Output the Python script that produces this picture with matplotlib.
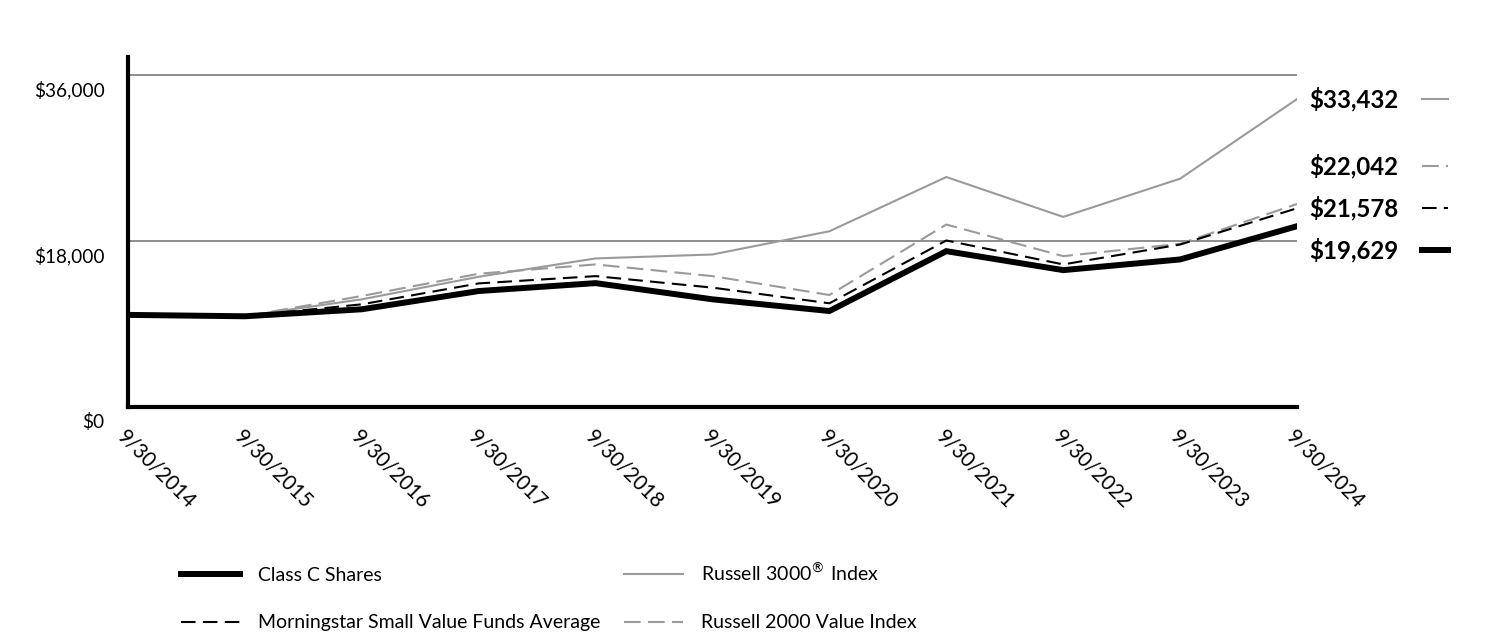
import matplotlib.pyplot as plt
from matplotlib.lines import Line2D
from matplotlib.transforms import ScaledTranslation, blended_transform_factory

plt.rcParams['font.family'] = ['Lato', 'DejaVu Sans']

# Data
years = ["9/30/2014", "9/30/2015", "9/30/2016", "9/30/2017", "9/30/2018", "9/30/2019",
         "9/30/2020", "9/30/2021", "9/30/2022", "9/30/2023", "9/30/2024"]
class_c = [10000, 9850, 10610, 12590, 13450, 11690, 10420, 16920, 14860, 16020, 19629]
russell_3000 = [10000, 9880, 11690, 14140, 16130, 16560, 19080, 24970, 20640, 24790, 33432]
morningstar = [10000, 9870, 11150, 13420, 14210, 12960, 11260, 18080, 15480, 17640, 21578]
russell_2000v = [10000, 9860, 12050, 14470, 15480, 14210, 12160, 19810, 16380, 17720, 22042]
yticks = [0, 18000, 36000]
ytick_labels = ["$0", "$18,000", "$36,000"]

x = list(range(len(years)))
gray = '#9a9a9a'

fig = plt.figure(figsize=(15.12, 6.36), dpi=100)
ax = fig.add_axes([0.08466, 0.36006, 0.77315, 0.55031])

ax.plot(x, russell_3000, color=gray, lw=1.5, label='Russell 3000$^{®}$ Index')
ax.plot(x, russell_2000v, color=gray, lw=1.5, linestyle=(0, (8, 3.5)), label='Russell 2000 Value Index')
ax.plot(x, morningstar, color='black', lw=1.5, linestyle=(0, (7, 3.5)), label='Morningstar Small Value Funds Average')
ax.plot(x, class_c, color='black', lw=4.3, solid_joinstyle='miter', label='Class C Shares')

ax.set_xlim(0, len(years) - 1)
ax.set_ylim(0, 38000)

for yv in yticks[1:]:
    ax.axhline(yv, color='#7a7a7a', lw=1.2, zorder=0)

for s in ['top', 'right']:
    ax.spines[s].set_visible(False)
for s in ['left', 'bottom']:
    ax.spines[s].set_linewidth(3)
    ax.spines[s].set_color('black')

ax.set_yticks(yticks)
ax.set_yticklabels(ytick_labels, fontsize=13.7)
ax.tick_params(axis='y', length=0, pad=17)
for lbl in ax.get_yticklabels():
    lbl.set_transform(lbl.get_transform() + ScaledTranslation(0, -0.13, fig.dpi_scale_trans))

ax.set_xticks(x)
ax.set_xticklabels(years, fontsize=14.8, rotation=-45, ha='left', va='top', rotation_mode='anchor')
ax.tick_params(axis='x', length=0, pad=14)

# End value labels with small line keys
end_labels = [("$33,432", 33432, dict(color=gray, lw=1.5)),
              ("$22,042", 26150, dict(color=gray, lw=1.5, linestyle=(0, (8, 3.5)))),
              ("$21,578", 21600, dict(color='black', lw=1.5, linestyle=(0, (7, 3.5)))),
              ("$19,629", 17050, dict(color='black', lw=4.3))]
trans = blended_transform_factory(ax.transAxes, ax.transData)
for txt, yv, style in end_labels:
    ax.text(1.0103, yv, txt, transform=trans, fontsize=17.3, fontweight='bold',
            ha='left', va='center', clip_on=False)
    ax.add_line(Line2D([1.1069, 1.1292], [yv, yv], transform=trans, clip_on=False, **style))

# Legend
handles, labels = ax.get_legend_handles_labels()
order = [3, 2, 0, 1]
leg = fig.legend([handles[i] for i in order], [labels[i] for i in order], ncol=2,
                 loc='upper left', bbox_to_anchor=(181 / 1512, 1 - 562 / 636),
                 frameon=False, fontsize=14, handlelength=3.05, handletextpad=0.92,
                 columnspacing=1.2, labelspacing=1.55, borderpad=0, borderaxespad=0)

plt.savefig('out.png', dpi=100)
